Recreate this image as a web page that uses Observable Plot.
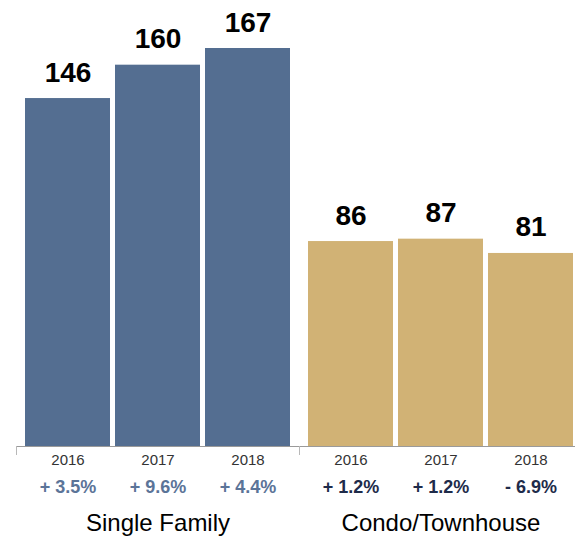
<!DOCTYPE html>
<html>
<head>
<meta charset="utf-8">
<script src="https://cdn.jsdelivr.net/npm/d3@7"></script>
<script src="https://cdn.jsdelivr.net/npm/@observablehq/plot@0.6"></script>
<style>
  html, body { margin: 0; padding: 0; background: #fff; }
  #chart { width: 575px; height: 538px; overflow: hidden; }
  svg { overflow: visible; }
</style>
</head>
<body>
<div id="chart"></div>
<script>
const groups = ["Single Family", "Condo/Townhouse"];
const years = ["2016", "2017", "2018"];
const singleFamily = [146, 160, 167];
const condo = [86, 87, 81];
const singleFamilyChange = ["+ 3.5%", "+ 9.6%", "+ 4.4%"];
const condoChange = ["+ 1.2%", "+ 1.2%", "- 6.9%"];

const groupColors = ["#546e91", "#d1b275"];
const changeColors = ["#5b7498", "#1e2b4a"];

const values = [singleFamily, condo];
const changes = [singleFamilyChange, condoChange];
const table = groups.flatMap((g, gi) =>
  years.map((y, yi) => ({group: g, year: y, value: values[gi][yi], change: changes[gi][yi]}))
);
const groupRows = groups.map(g => ({group: g}));

const font = "'Liberation Sans', Arial, Helvetica, sans-serif";

const plot = Plot.plot({
  width: 575,
  height: 538,
  marginTop: 48,
  marginBottom: 92,
  marginLeft: 16,
  marginRight: -7,
  style: {fontFamily: font, background: "#fff", overflow: "visible"},
  fx: {domain: groups, padding: 0, axis: null},
  x: {domain: years, paddingInner: 0.056, paddingOuter: 0.1, label: null},
  y: {domain: [0, d3.max(table, d => d.value)], axis: null},
  color: {domain: groups, range: groupColors},
  marks: [
    Plot.barY(table, {fx: "group", x: "year", y: "value", fill: "group"}),
    Plot.ruleY([0], {stroke: "#9a9a9a", strokeWidth: 1}),
    Plot.frame({anchor: "left", stroke: "#b8b8b8", insetTop: 398, insetBottom: -8}),
    Plot.text(table, {
      fx: "group", x: "year", y: "value", text: d => String(d.value),
      lineAnchor: "bottom", dy: -17, fontSize: 28, fontWeight: "bold", fill: "#000"
    }),
    Plot.axisX({fontSize: 15, tickSize: 0, tickPadding: 8, color: "#333", label: null}),
    Plot.text(table, {
      fx: "group", x: "year", text: "change", frameAnchor: "bottom",
      dy: 41, lineAnchor: "middle", fontSize: 18, fontWeight: "bold",
      fill: d => changeColors[groups.indexOf(d.group)]
    }),
    Plot.text(groupRows, {
      fx: "group", text: "group", frameAnchor: "bottom",
      dy: 77, lineAnchor: "middle", fontSize: 24, fill: "#000"
    })
  ]
});
document.getElementById("chart").appendChild(plot);
</script>
</body>
</html>
